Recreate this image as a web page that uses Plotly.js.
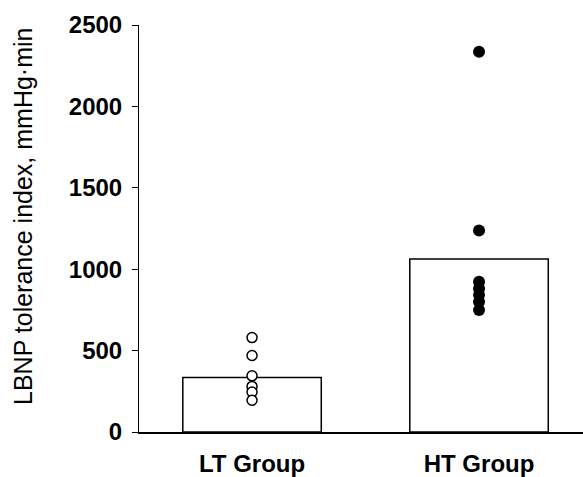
<!DOCTYPE html>
<html><head><meta charset="utf-8">
<script src="https://cdn.plot.ly/plotly-3.0.1.min.js"></script>
<style>html,body{margin:0;padding:0;background:#fff;}#chart{width:583px;height:477px;}</style>
</head><body><div id="chart"></div>
<script>
const categories = ["LT Group", "HT Group"];
const groupMeans = [335, 1062];
const ltValues = [580, 470, 345, 280, 245, 195];
const htValues = [2335, 1238, 923, 882, 841, 800, 750];
const yTickVals = [0, 500, 1000, 1500, 2000, 2500];
const yTitle = 'LBNP tolerance index, mmHg·min';

const traces = [
  {type:'bar', x:categories, y:groupMeans, width:0.61,
   marker:{color:'#ffffff', line:{color:'#000', width:1.5}}, hoverinfo:'skip'},
  {type:'scatter', mode:'markers', x:ltValues.map(()=>categories[0]), y:ltValues,
   marker:{symbol:'circle', size:10, color:'#ffffff', line:{color:'#000', width:1.5}}},
  {type:'scatter', mode:'markers', x:htValues.map(()=>categories[1]), y:htValues,
   marker:{symbol:'circle', size:12, color:'#000', line:{color:'#000', width:0}}}
];
const layout = {
  width:583, height:477, showlegend:false,
  paper_bgcolor:'#fff', plot_bgcolor:'#fff',
  margin:{l:139, r:0, t:25, b:45, pad:0},
  font:{family:'Liberation Sans, Arial, sans-serif', color:'#000'},
  xaxis:{type:'category', range:[-0.498, 1.458], showgrid:false, zeroline:false,
    showline:true, linecolor:'#000', linewidth:1.5, ticks:'', ticklabelstandoff:10,
    tickfont:{size:24, family:'Liberation Sans, Arial, sans-serif', weight:'bold'}},
  yaxis:{range:[0,2500], tickvals:yTickVals, showgrid:false, zeroline:false,
    showline:true, linecolor:'#000', linewidth:1, ticks:'outside', ticklen:6, tickwidth:1,
    tickcolor:'#000', ticklabelstandoff:5,
    tickfont:{size:24, family:'Liberation Sans, Arial, sans-serif', weight:'bold'}},
  annotations:[{text:yTitle, textangle:-90, xref:'paper', yref:'paper',
    x:(23-139)/444, y:(432-217)/407, xanchor:'center', yanchor:'middle', showarrow:false,
    font:{size:25, family:'Liberation Sans, Arial, sans-serif', color:'#000'}}]
};
Plotly.newPlot('chart', traces, layout, {staticPlot:true, displayModeBar:false});
</script></body></html>
